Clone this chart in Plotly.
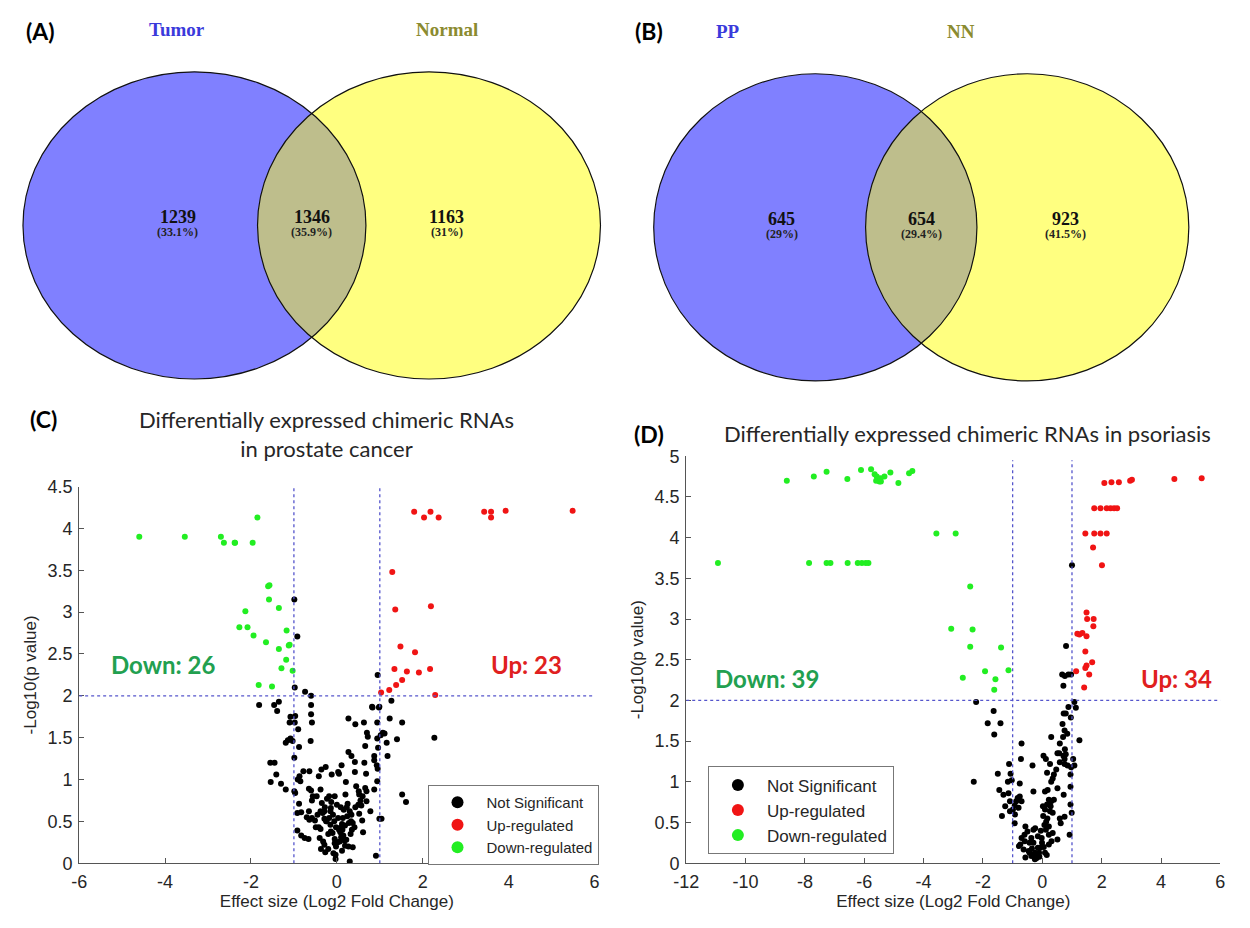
import numpy as np
import plotly.graph_objects as go

# ---------------- DATA ----------------
venn_a_sets = ["Tumor", "Normal"]
venn_a_counts = [1239, 1346, 1163]
venn_a_pct = ["33.1%", "35.9%", "31%"]
venn_b_sets = ["PP", "NN"]
venn_b_counts = [645, 654, 923]
venn_b_pct = ["29%", "29.4%", "41.5%"]

c_title = "Differentially expressed chimeric RNAs<br>in prostate cancer"
d_title = "Differentially expressed chimeric RNAs in psoriasis"
c_counts = {"Down": 26, "Up": 23}
d_counts = {"Down": 39, "Up": 34}
thresh_fc = [-1, 1]
thresh_p = 2

c_xticks = [-6, -4, -2, 0, 2, 4, 6]
c_xtick_labels = ["-6", "-4", "-2", "0", "2", "4", "6"]
d_xticks = [-12, -10, -8, -6, -4, -2, 0, 2, 4, 6]
d_xtick_labels = ["-12", "-10", "-8", "-6", "-4", "-2", "0", "2", "4", "6"]

# Panel C (prostate cancer)
c_down_x = [-4.60, -3.54, -2.70, -2.63, -2.38, -1.96, -1.85, -1.57, -1.58, -1.35, -2.13, -2.27, -2.08,
            -1.94, -1.65, -1.17, -1.10, -1.35, -1.18, -1.29, -1.03, -1.82, -1.51, -2.37, -1.60, -1.12]
c_down_y = [3.90, 3.90, 3.90, 3.83, 3.83, 3.83, 4.13, 3.32, 3.15, 3.05, 3.01, 2.82, 2.82,
            2.72, 2.64, 2.78, 2.61, 2.56, 2.43, 2.33, 2.30, 2.13, 2.11, 3.83, 3.31, 2.60]
c_up_x = [1.80, 2.03, 2.18, 2.37, 3.43, 3.59, 3.59, 3.93, 5.49, 1.29, 1.36, 2.19, 1.48, 1.82, 1.34,
          1.63, 1.91, 2.17, 1.52, 1.38, 1.22, 1.03, 2.29]
c_up_y = [4.20, 4.13, 4.20, 4.13, 4.20, 4.20, 4.13, 4.21, 4.21, 3.48, 3.03, 3.07, 2.59, 2.52, 2.32,
          2.29, 2.28, 2.32, 2.19, 2.13, 2.07, 2.04, 2.01]
c_ns_x = [-0.99, -0.92, 0.95, -0.98, -0.74, -0.60, -1.81, -1.46, -1.35, -1.39, -0.60, 0.82, 0.99, 1.27,
          -1.08, -0.97, -1.10, -0.98, -0.90, -0.60, -0.58, -1.14, -1.08, -1.19, -1.03, -0.88, -0.61,
          -0.99, -1.55, -1.45, -1.41, -1.30, -1.54, -1.19, -0.99, -0.97, -0.87, -0.91, -0.85, -0.78,
          -0.64, -0.88, -0.65, -0.60, -0.58, -0.56, -0.47, -0.92, -0.83, -0.65, -0.64, -0.58, -0.92,
          -0.83, -0.66, -0.51, -0.49, -0.42, -0.38, -0.28, -0.29, -0.29, -0.42, -0.36, -0.12, -0.18,
          -0.23, -0.05, -0.14, -0.38, -0.40, -0.32, -0.29, -0.37, -0.27, -0.20, -0.15, -0.14, -0.05,
          -0.05, -0.03, -0.03, -0.09, -0.06, 0.03, -0.02, 0.07, 0.12, 0.14, 0.19, 0.16, 0.23, 0.25,
          0.30, 0.34, 0.37, 0.41, 0.32, 0.27, 0.30, 0.10, 0.07, 0.19, 0.05, 0.11, 0.03, 0.21, 0.20,
          0.27, 0.34, 0.42, 0.42, 0.45, 0.51, 0.52, 0.55, 0.57, 0.52, 0.43, 0.27, 0.63, 0.70, 0.72,
          0.66, 0.64, 0.68, 0.66, 0.69, 0.69, 0.78, 0.61, 0.87, 0.87, 0.93, 0.95, 0.96, 0.94, 0.94,
          0.87, 0.94, 0.99, 1.04, 0.91, 1.02, 1.07, 1.11, 1.16, 1.18, 1.23, 1.40, 1.52, 2.27, 1.52,
          1.61, 0.98, 0.83, -0.18, -0.24, -0.13, 0.00, 0.09, 0.43, 0.33, 0.37, 0.59, -0.26, -0.38,
          -0.10, 0.05, 0.15, -0.20, 0.22, -0.33, 0.08, 0.28, -0.45, 0.12, -0.02, 0.18, -0.25, 0.35,
          -0.70, -0.75, 0.50, 0.60, -0.15, 0.02, -0.08, 0.24, -0.35, 0.13]
c_ns_y = [3.15, 2.71, 2.25, 2.10, 2.05, 2.00, 1.89, 1.89, 1.93, 1.82, 1.89, 1.87, 1.87, 1.94,
          1.75, 1.76, 1.68, 1.68, 1.60, 1.78, 1.68, 1.47, 1.49, 1.44, 1.46, 1.39, 1.46,
          1.26, 1.20, 1.20, 1.06, 0.95, 0.97, 0.88, 0.86, 0.84, 1.04, 1.00, 0.98, 1.10,
          1.10, 0.71, 0.89, 0.87, 0.75, 0.80, 0.80, 0.60, 0.61, 0.62, 0.52, 0.54, 0.39,
          0.33, 0.29, 0.51, 0.43, 0.43, 0.62, 0.67, 0.62, 0.53, 1.04, 1.12, 1.06, 0.80,
          0.77, 0.80, 0.66, 0.41, 0.30, 0.26, 0.22, 0.17, 0.13, 0.17, 0.46, 0.38, 0.29,
          0.24, 0.10, 0.05, 0.58, 0.50, 0.54, 0.43, 0.42, 0.47, 0.54, 0.45, 0.64, 0.67, 0.71,
          0.62, 0.58, 0.48, 0.43, 0.35, 0.20, 0.02, 0.31, 0.26, 0.21, 1.07, 1.17, 1.09, 0.97, 0.82,
          1.33, 1.28, 1.21, 1.09, 0.92, 0.86, 0.82, 0.75, 0.69, 0.59, 1.66, 1.73, 1.68, 1.56, 1.51,
          1.40, 1.20, 1.07, 0.90, 0.86, 0.74, 0.62, 0.37, 1.28, 1.23, 1.17, 1.13, 1.38, 1.49, 1.68,
          0.88, 0.98, 0.53, 0.53, 0.09, 1.53, 1.56, 1.55, 1.44, 1.28, 1.73, 1.48, 1.68, 1.50, 0.82,
          0.73, 1.86, 1.86, 0.54, 0.50, 0.73, 0.70, 0.67, 0.67, 0.50, 0.19, 0.51, 1.15, 0.88,
          0.36, 0.40, 0.33, 0.35, 0.28, 0.60, 0.37, 0.48, 0.58, 0.15, 0.20, 0.27, 0.50, 0.40,
          0.55, 0.30, 0.70, 0.80, 0.62, 0.25, 0.12, 0.56, 0.72, 0.40]

# Panel D (psoriasis)
d_down_x = [-8.61, -7.70, -7.27, -6.57, -6.11, -5.77, -5.65, -5.58, -5.53, -5.49, -5.44, -5.32, -5.12,
            -4.85, -4.49, -4.38, -5.60, -5.45, -10.93, -7.86, -7.27, -7.14, -6.56, -6.22, -6.08,
            -5.95, -5.86, -3.57, -2.92, -2.43, -3.07, -2.35, -2.43, -1.39, -2.68, -1.93, -1.58,
            -1.14, -1.62]
d_down_y = [4.70, 4.75, 4.81, 4.72, 4.83, 4.84, 4.78, 4.75, 4.72, 4.69, 4.69, 4.75, 4.80,
            4.67, 4.79, 4.82, 4.70, 4.73, 3.69, 3.69, 3.69, 3.69, 3.69, 3.69, 3.69,
            3.69, 3.69, 4.05, 4.05, 3.40, 2.88, 2.87, 2.66, 2.65, 2.28, 2.36, 2.26,
            2.37, 2.13]
d_up_x = [2.09, 2.33, 2.58, 2.96, 3.02, 4.45, 5.37, 1.75, 1.96, 2.17, 2.30, 2.42, 2.52, 1.45, 1.75,
          1.96, 2.17, 1.71, 2.01, 1.49, 1.51, 1.73, 1.72, 1.25, 1.35, 1.49, 1.45, 1.68, 1.49, 1.45,
          1.14, 1.58, 1.41, 1.18]
d_up_y = [4.67, 4.68, 4.68, 4.70, 4.71, 4.72, 4.73, 4.36, 4.36, 4.36, 4.36, 4.36, 4.36, 4.05, 4.05,
          4.05, 4.05, 3.88, 3.66, 3.08, 3.00, 3.00, 2.91, 2.81, 2.83, 2.79, 2.60, 2.47, 2.43, 2.40,
          2.36, 2.32, 2.16, 2.82]
d_ns_x = [1.00, 0.80, 0.67, 0.76, 0.88, 0.97, 0.71, -2.23, 1.08, 1.13, 0.88, 0.79, 0.72, 0.96,
          -1.64, -1.84, -1.41, -1.62, 1.25, 0.30, 0.68, 0.75, 0.84, 0.70, 0.59, 0.51, 0.57, 0.76,
          0.79, 0.75, 0.75, 0.71, 1.04, 1.08, 0.97, 0.85, 0.59, 0.47, 0.30, 0.26, 0.04, 0.12, 0.16,
          0.39, 0.35, 0.95, 0.95, 0.95, 0.99, 0.72, 0.51, 0.39, 0.30, 0.22, 0.18, 0.09, 0.16, 0.02,
          0.09, 0.26, 0.35, 0.59, 0.62, 0.75, 0.17, 0.07, 0.22, 0.12, 0.22, 0.35, 0.31, 0.22, 0.51,
          0.92, -0.02, -0.01, -0.15, -0.24, -0.30, -0.37, -0.20, -0.11, 0.09, -0.43, -0.43, -0.57,
          -0.50, -0.57, -0.60, -0.30, -0.24, -0.37, -0.30, -0.70, -0.74, -0.79, -0.63, -0.93, -0.92,
          -0.80, -0.70, -0.76, -0.83, -0.88, -0.93, -0.76, -0.30, -0.33, -0.72, -0.70, -0.99, -1.09,
          -1.25, -1.14, -1.31, -1.45, -1.36, -1.09, -1.12, -1.07, -1.03, -1.16, -1.50, -2.31, 0.03,
          0.13, -0.15, -0.07, -0.46, -0.59, -0.25, -0.10, 0.05, -0.35, -0.05, 0.15, -0.20, 0.28]
d_ns_y = [3.66, 2.67, 2.32, 2.30, 2.32, 2.32, 2.18, 1.98, 1.98, 1.91, 1.92, 1.84, 1.84, 1.79,
          1.87, 1.72, 1.72, 1.58, 1.51, 1.55, 1.71, 1.63, 1.59, 1.55, 1.47, 1.35, 1.35, 1.40,
          1.34, 1.28, 1.22, 1.32, 1.28, 1.20, 1.18, 1.20, 1.24, 1.15, 1.00, 1.22, 1.32, 1.28, 1.11,
          1.09, 1.04, 1.09, 0.94, 0.72, 0.62, 0.84, 0.92, 0.78, 0.76, 0.78, 0.90, 0.88, 0.72, 0.70,
          0.66, 0.64, 0.62, 0.55, 0.49, 0.57, 0.55, 0.47, 0.45, 0.41, 0.35, 0.37, 0.27, 0.23, 0.29,
          0.35, 0.31, 0.25, 0.19, 0.13, 0.11, 0.09, 0.09, 0.13, 0.13, 0.25, 0.13, 0.07,
          0.39, 0.45, 0.35, 0.41, 0.43, 0.31, 0.25, 0.31, 0.23, 0.21, 0.17, 0.49, 0.60,
          0.68, 0.76, 0.82, 0.80, 0.76, 0.71, 0.98, 0.88, 1.20, 1.28, 1.47, 0.66, 0.76,
          0.70, 0.86, 0.84, 0.90, 0.58, 0.64, 1.22, 1.10, 1.02, 1.00, 1.10, 1.00, 0.58,
          0.51, 0.33, 0.19, 0.15, 0.27, 0.05, 0.08, 0.20, 0.18, 0.40, 0.10, 0.06, 0.70]

# ---------------- STYLE ----------------
PAGE_W, PAGE_H = 1250, 928
OFF = 8                      # default body margin of the HTML page
W, H = PAGE_W - OFF, PAGE_H - OFF
SANS = "Liberation Sans, Arial, sans-serif"
CAL = "Lato, Open Sans, sans-serif"
SERIF = "Liberation Serif, Times New Roman, serif"
C_NS, C_UP, C_DN = "#000000", "#F01414", "#22EE22"
DOT = "#5555CC"
AX = "#555555"
TXT = "#262626"


def px_x(p):
    """page pixel -> paper fraction"""
    return (p - OFF) / W


def px_y(p):
    return 1 - (p - OFF) / H


fig = go.Figure()

# ---------- volcano traces ----------
for xs, ys, name, col, leg, xa, ya in [
    (c_ns_x, c_ns_y, "Not Significant", C_NS, "legend", "x", "y"),
    (c_up_x, c_up_y, "Up-regulated", C_UP, "legend", "x", "y"),
    (c_down_x, c_down_y, "Down-regulated", C_DN, "legend", "x", "y"),
    (d_ns_x, d_ns_y, "Not Significant", C_NS, "legend2", "x2", "y2"),
    (d_up_x, d_up_y, "Up-regulated", C_UP, "legend2", "x2", "y2"),
    (d_down_x, d_down_y, "Down-regulated", C_DN, "legend2", "x2", "y2"),
]:
    fig.add_trace(go.Scatter(x=xs, y=ys, mode="markers", name=name, legend=leg,
                             xaxis=xa, yaxis=ya,
                             marker=dict(color=col, size=6, line=dict(width=0))))

axis_common = dict(showgrid=False, zeroline=False, showline=True, linecolor=AX, linewidth=1,
                   ticks="inside", ticklen=5, tickcolor=AX, mirror=False,
                   tickfont=dict(family=SANS, size=18, color=TXT),
                   title_font=dict(family=SANS, size=17, color=TXT))

fig.update_layout(
    xaxis=dict(domain=[px_x(67), px_x(590)], range=[-6, 6], tickvals=c_xticks,
               ticktext=c_xtick_labels, anchor="y", ticklabelstandoff=2,
               title=dict(text="Effect size (Log2 Fold Change)", standoff=4), **axis_common),
    yaxis=dict(domain=[px_y(872), px_y(487)], range=[0, 4.5], dtick=0.5, tick0=0, anchor="x",
               ticklabelstandoff=2,
               title=dict(text="-Log10(p value)", standoff=6), **axis_common),
    xaxis2=dict(domain=[px_x(683), px_x(1225)], range=[-12, 6], tickvals=d_xticks,
                ticktext=d_xtick_labels, anchor="y2", ticklabelstandoff=2,
                title=dict(text="Effect size (Log2 Fold Change)", standoff=4), **axis_common),
    yaxis2=dict(domain=[px_y(872), px_y(456)], range=[0, 5], dtick=0.5, tick0=0, anchor="x2",
                ticklabelstandoff=2,
                title=dict(text="-Log10(p value)", standoff=6), **axis_common),
    # pixel-space axis (page coordinates) for the Venn diagrams
    xaxis3=dict(domain=[0, 1], range=[OFF, PAGE_W], visible=False, anchor="y3", fixedrange=True),
    yaxis3=dict(domain=[px_y(400), 1], range=[400, OFF], visible=False, anchor="x3",
                fixedrange=True),
)

# threshold dotted lines
shapes = []
for xa, ya, xr, ytop in [("x", "y", [-6, 6], 4.5), ("x2", "y2", [-12, 6], 4.95)]:
    for t in thresh_fc:
        shapes.append(dict(type="line", xref=xa, yref=ya, x0=t, x1=t, y0=0, y1=ytop,
                           line=dict(color=DOT, width=1.3, dash="dot")))
    shapes.append(dict(type="line", xref=xa, yref=ya, x0=xr[0], x1=xr[1], y0=thresh_p, y1=thresh_p,
                       line=dict(color=DOT, width=1.3, dash="dot")))

# ---------- Venn diagrams ----------
BLUE, YEL, LENS = "#8080FF", "#FFFF80", "#BEBE8C"


def lens_path(c1, c2, cy, rx, ry, n=60):
    xm = (c1 + c2) / 2
    dy = ry * np.sqrt(1 - ((xm - c1) / rx) ** 2)
    t0 = np.arcsin(dy / ry)
    ang1 = np.linspace(-t0, t0, n)
    p1 = [(c1 + rx * np.cos(a), cy + ry * np.sin(a)) for a in ang1]
    ang2 = np.linspace(np.pi - t0, np.pi + t0, n)
    p2 = [(c2 + rx * np.cos(a), cy + ry * np.sin(a)) for a in ang2]
    pts = p1 + p2
    return "M " + " L ".join(f"{x:.2f},{y:.2f}" for x, y in pts) + " Z"


venns = [
    dict(c1=184, c2=422, cy=220, rx=174, ry=157),
    dict(c1=814, c2=1029, cy=222, rx=164, ry=157),
]
for v in venns:
    for c, col in [(v["c1"], BLUE), (v["c2"], YEL)]:
        shapes.append(dict(type="circle", xref="x3", yref="y3", x0=c - v["rx"], x1=c + v["rx"],
                           y0=v["cy"] - v["ry"], y1=v["cy"] + v["ry"], fillcolor=col,
                           line=dict(width=0), layer="above"))
    shapes.append(dict(type="path", xref="x3", yref="y3",
                       path=lens_path(v["c1"], v["c2"], v["cy"], v["rx"], v["ry"]),
                       fillcolor=LENS, line=dict(width=0), layer="above"))
    for c in (v["c1"], v["c2"]):
        shapes.append(dict(type="circle", xref="x3", yref="y3", x0=c - v["rx"], x1=c + v["rx"],
                           y0=v["cy"] - v["ry"], y1=v["cy"] + v["ry"], fillcolor="rgba(0,0,0,0)",
                           line=dict(width=1.2, color="#111111"), layer="above"))

ann = []


def add_text(x, y, text, size, color, family, xref="x3", yref="y3", **kw):
    ann.append(dict(x=x, y=y, xref=xref, yref=yref, text=text, showarrow=False,
                    xanchor="center", yanchor="middle",
                    font=dict(size=size, color=color, family=family), **kw))


# Venn labels
venn_pos = [
    (venn_a_sets, venn_a_counts, venn_a_pct, [(166, 20), (440, 20)], [167, 303, 440], 211),
    (venn_b_sets, venn_b_counts, venn_b_pct, [(725, 22), (962, 22)], [780, 922, 1068], 213),
]
for sets, counts, pcts, tpos, xs, ty in venn_pos:
    add_text(tpos[0][0], tpos[0][1], f"<b>{sets[0]}</b>", 19, "#3A3ADB", SERIF)
    add_text(tpos[1][0], tpos[1][1], f"<b>{sets[1]}</b>", 19, "#8B8B30", SERIF)
    for x, cnt, pc in zip(xs, counts, pcts):
        add_text(x, ty, f"<b>{cnt}</b>", 18, "#111111", SERIF)
        add_text(x, ty + 16, f"<b>({pc})</b>", 12, "#222222", SERIF)

# panel letters
add_text(28, 21, "<b>(A)</b>", 23, "#000000", CAL)
add_text(645, 21, "<b>(B)</b>", 23, "#000000", CAL)
add_text(px_x(31), px_y(418), "<b>(C)</b>", 23, "#000000", CAL, xref="paper", yref="paper")
add_text(px_x(645), px_y(433), "<b>(D)</b>", 23, "#000000", CAL, xref="paper", yref="paper")

# panel titles
add_text(px_x(318), px_y(433), c_title, 22, TXT, CAL, xref="paper", yref="paper")
add_text(px_x(968), px_y(433), d_title, 22, TXT, CAL, xref="paper", yref="paper")

# Up / Down counts
add_text(px_x(152), px_y(669), f"<b>Down: {c_counts['Down']}</b>", 24, "#22A050", CAL,
         xref="paper", yref="paper")
add_text(px_x(521), px_y(669), f"<b>Up: {c_counts['Up']}</b>", 24, "#E02020", CAL,
         xref="paper", yref="paper")
add_text(px_x(765), px_y(683), f"<b>Down: {d_counts['Down']}</b>", 24, "#22A050", CAL,
         xref="paper", yref="paper")
add_text(px_x(1180), px_y(683), f"<b>Up: {d_counts['Up']}</b>", 24, "#E02020", CAL,
         xref="paper", yref="paper")

legend_style = dict(bgcolor="white", bordercolor="#777777", borderwidth=1,
                    tracegroupgap=0, itemsizing="constant", itemwidth=48)

fig.update_layout(
    width=W, height=H, margin=dict(l=0, r=0, t=0, b=0),
    paper_bgcolor="white", plot_bgcolor="white",
    shapes=shapes, annotations=ann,
    legend=dict(x=px_x(594), y=px_y(792), xanchor="right", yanchor="top",
                font=dict(family=SANS, size=15, color=TXT), **legend_style),
    legend2=dict(x=px_x(705), y=px_y(773), xanchor="left", yanchor="top",
                 font=dict(family=SANS, size=17, color=TXT), **legend_style),
    showlegend=True,
)

fig.write_html("out.html")
